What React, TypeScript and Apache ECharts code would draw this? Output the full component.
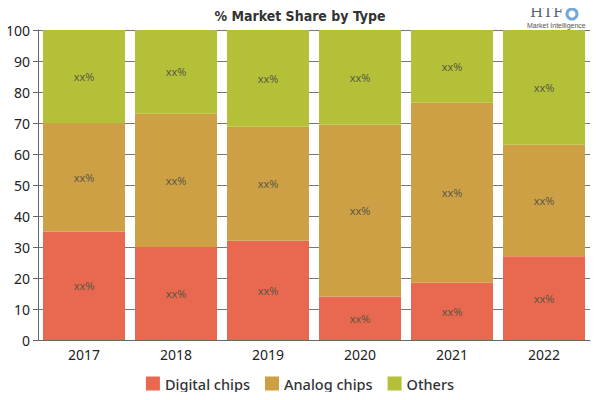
import React, { useEffect, useRef } from "react";
import * as echarts from "echarts";

const years = ["2017", "2018", "2019", "2020", "2021", "2022"];
const digitalChips = [35, 30, 32, 14, 18.5, 27];
const analogChips = [35, 43, 36.8, 55.4, 58, 36];
const others = [30, 27, 31.2, 30.6, 23.5, 37];
const seriesNames = ["Digital chips", "Analog chips", "Others"];
const colors = ["#E8694F", "#CDA046", "#B3C038"];

export default function App() {
  const ref = useRef<HTMLDivElement>(null);
  useEffect(() => {
    if (!ref.current) return;
    const chart = echarts.init(ref.current, null, { renderer: "svg" });
    const data = [digitalChips, analogChips, others];
    const label = {
      show: true,
      position: "inside",
      formatter: () => "xx%",
      color: "#555544",
      fontSize: 11,
      fontFamily: "Open Sans",
    };
    chart.setOption({
      animation: false,
      color: colors,
      grid: { left: 38, right: 10, top: 30, bottom: 60 },
      title: {
        text: "% Market Share by Type",
        left: "center",
        top: 4,
        textStyle: {
          fontFamily: "DejaVu Sans Condensed",
          fontWeight: "bold",
          fontSize: 14,
          color: "#333",
        },
      },
      legend: {
        bottom: 4,
        left: "center",
        itemWidth: 14,
        itemHeight: 14,
        itemGap: 15,
        icon: "rect",
        textStyle: { fontSize: 14.5, color: "#333", fontFamily: "Noto Sans", fontWeight: 500 },
        data: seriesNames,
      },
      xAxis: {
        type: "category",
        data: years,
        axisLine: { lineStyle: { color: "#666" } },
        axisTick: { alignWithLabel: true, length: 5, lineStyle: { color: "#666" } },
        axisLabel: { fontSize: 14, color: "#222", margin: 7, fontFamily: "Noto Sans" },
      },
      yAxis: {
        type: "value",
        min: 0,
        max: 100,
        interval: 10,
        axisLine: { show: true, lineStyle: { color: "#666" } },
        axisTick: { show: true, length: 5, lineStyle: { color: "#666" } },
        axisLabel: { fontSize: 14, color: "#222", margin: 8, fontFamily: "Noto Sans" },
        splitLine: { lineStyle: { color: "#777" } },
      },
      series: data.map((d, i) => ({
        name: seriesNames[i],
        type: "bar",
        stack: "total",
        barWidth: 82,
        data: d,
        label,
        itemStyle: { color: colors[i] },
      })),
      graphic: [
        {
          type: "text",
          left: 530,
          top: 4,
          style: {
            text: "HTF",
            fontFamily: "DejaVu Serif",
            fontSize: 15,
            fill: "#5a6470",
          },
        },
        {
          type: "circle",
          shape: { cx: 572, cy: 14, r: 5 },
          style: { fill: "none", stroke: "#5a9bd0", lineWidth: 3, opacity: 0.85 },
        },
        {
          type: "circle",
          shape: { cx: 570, cy: 5, r: 3 },
          style: { fill: "#7aa7cf" },
        },
        {
          type: "text",
          left: 527,
          top: 22,
          style: {
            text: "Market Intelligence",
            fontFamily: "Liberation Sans",
            fontSize: 7,
            fill: "#555",
          },
        },
      ],
    });
    return () => chart.dispose();
  }, []);
  return <div ref={ref} style={{ width: 600, height: 400, margin: -8 }} />;
}
